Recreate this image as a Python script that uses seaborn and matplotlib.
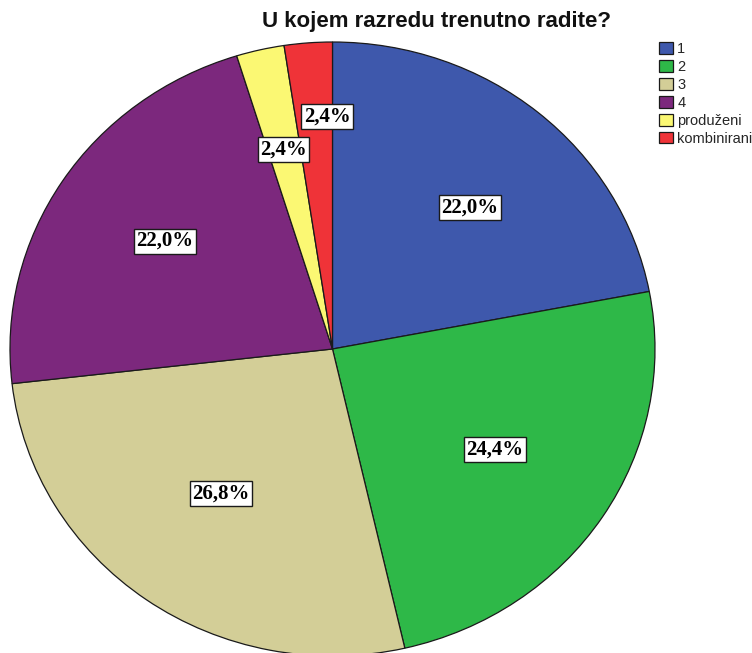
import numpy as np
import matplotlib
matplotlib.use("Agg")
import matplotlib.pyplot as plt
import seaborn as sns

# ---- data ----
title = "U kojem razredu trenutno radite?"
categories = ["1", "2", "3", "4", "produženi", "kombinirani"]
percentages = [22.0, 24.4, 26.8, 22.0, 2.4, 2.4]
pct_labels = ["22,0%", "24,4%", "26,8%", "22,0%", "2,4%", "2,4%"]
colors = ["#3E58AC", "#2EB848", "#D3CE97", "#7C287D", "#FBF873", "#EF3338"]

sns.set_theme(style="white")
plt.rcParams["font.family"] = ["Liberation Sans", "DejaVu Sans"]
palette = sns.color_palette(colors)

W, H = 752, 653
fig = plt.figure(figsize=(W / 100, H / 100), dpi=100)
# pie ellipse: x 10..655, y 42..656 (pixels)
ax = fig.add_axes([10 / W, (H - 656) / H, 645 / W, 614 / H])

wedges, _ = ax.pie(
    percentages,
    colors=palette,
    startangle=90,
    counterclock=False,
    radius=1.0,
    wedgeprops=dict(edgecolor="#1a1a1a", linewidth=0.9),
)
ax.set_aspect("auto")
ax.set_xlim(-1, 1)
ax.set_ylim(-1, 1)
ax.axis("off")

# label placement style: radial distance and angular offset (deg) from wedge mid
dists = [0.627, 0.601, 0.583, 0.627, 0.666, 0.756]
offsets = [-3.1, 0.0, -1.1, -1.0, 0.2, -3.1]
for w, lab, d, off in zip(wedges, pct_labels, dists, offsets):
    theta = np.deg2rad((w.theta1 + w.theta2) / 2 + off)
    ax.text(
        d * np.cos(theta), d * np.sin(theta), lab,
        ha="center", va="center",
        fontsize=15, fontweight="bold", family=["Liberation Serif", "DejaVu Serif"],
        color="black",
        bbox=dict(boxstyle="square,pad=0.12", facecolor="white", edgecolor="#1a1a1a", linewidth=1.0),
    )

fig.text(437 / W, 1 - 22 / H, title, ha="center", va="center",
         fontsize=16, fontweight="bold", color="#111111")

leg = fig.legend(
    wedges, categories,
    loc="upper left", bbox_to_anchor=(659 / W, 1 - 42 / H),
    bbox_transform=fig.transFigure,
    frameon=False, fontsize=10.5,
    handlelength=0.95, handleheight=0.85, handletextpad=0.3,
    labelspacing=0.27, borderpad=0, borderaxespad=0,
)
for h in leg.legend_handles:
    h.set_edgecolor("#1a1a1a")
    h.set_linewidth(0.9)

fig.savefig("out.png", dpi=100)
